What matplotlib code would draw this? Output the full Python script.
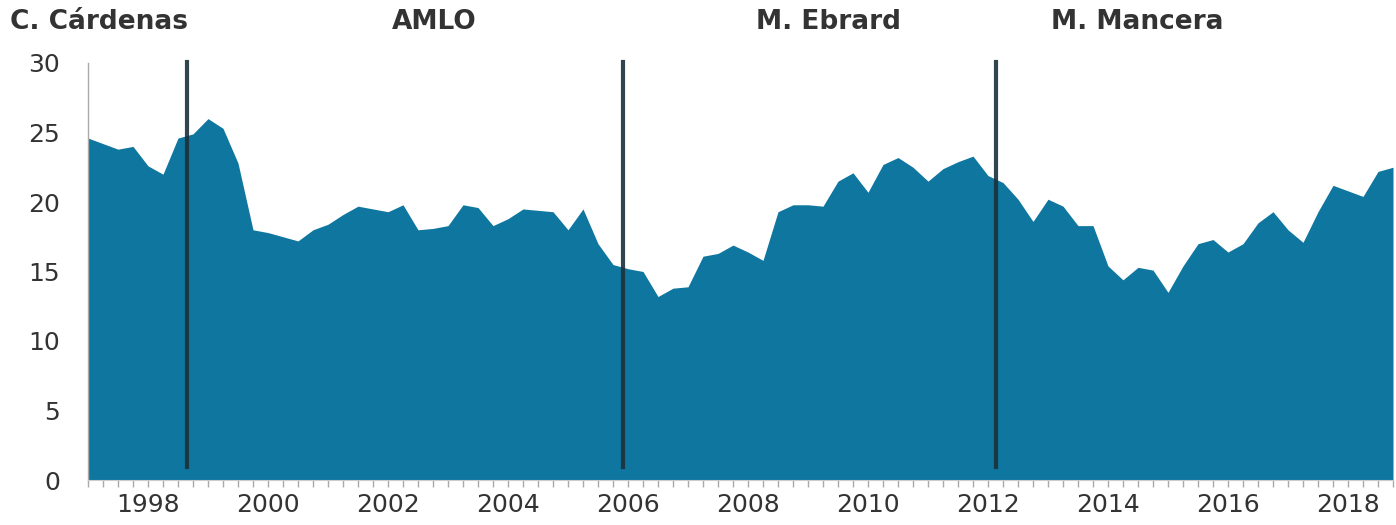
import numpy as np
import matplotlib
matplotlib.use("Agg")
import matplotlib.pyplot as plt

# Quarterly values, 1997 Q1 to 2018 Q4
values = [
    24.6, 24.2, 23.8, 24.0, 22.6, 22.0, 24.6, 24.9, 26.0, 25.3,
    22.8, 18.0, 17.8, 17.5, 17.2, 18.0, 18.4, 19.1, 19.7, 19.5,
    19.3, 19.8, 18.0, 18.1, 18.3, 19.8, 19.6, 18.3, 18.8, 19.5,
    19.4, 19.3, 18.0, 19.5, 17.0, 15.5, 15.2, 15.0, 13.2, 13.8,
    13.9, 16.1, 16.3, 16.9, 16.4, 15.8, 19.3, 19.8, 19.8, 19.7,
    21.5, 22.1, 20.7, 22.7, 23.2, 22.5, 21.5, 22.4, 22.9, 23.3,
    21.9, 21.4, 20.2, 18.6, 20.2, 19.7, 18.3, 18.3, 15.4, 14.4,
    15.3, 15.1, 13.5, 15.4, 17.0, 17.3, 16.4, 17.0, 18.5, 19.3,
    18.0, 17.1, 19.3, 21.2, 20.8, 20.4, 22.2, 22.5,
]
years = 1997 + np.arange(len(values)) / 4

# Changes of government and the header labels
change_years = [1998.65, 2005.92, 2012.13]
mayors = ["C. Cárdenas", "AMLO", "M. Ebrard", "M. Mancera"]
mayor_x = [10, 434, 829, 1137]

year_ticks = list(range(1998, 2019, 2))
y_ticks = [0, 5, 10, 15, 20, 25, 30]

plt.rcParams["font.family"] = ["DejaVu Sans"]

fig = plt.figure(figsize=(13.96, 5.25), dpi=100)
ax = fig.add_axes([88 / 1396, 45 / 525, 1305 / 1396, 417 / 525])

ax.fill_between(years, values, 0, color="#0f76a0", linewidth=0)

for x in change_years:
    ax.plot([x, x], [0.9, 30.1], color="#1c3039", alpha=0.9,
            linewidth=3, clip_on=False)

ax.set_xlim(1997, 2018.75)
ax.set_ylim(0, 30)

ax.set_xticks(year_ticks)
ax.set_xticks(np.arange(1997, 2018.8, 0.25), minor=True)
ax.set_yticks(y_ticks)
ax.tick_params(axis="x", which="both", length=5, width=1, color="#aaaaaa",
               labelsize=18, labelcolor="#333333", pad=4)
ax.tick_params(axis="y", length=0, labelsize=18, labelcolor="#333333", pad=20)

for side in ["top", "right"]:
    ax.spines[side].set_visible(False)
ax.spines["left"].set_color("#aaaaaa")
ax.spines["left"].set_linewidth(1)
ax.spines["bottom"].set_color("#cccccc")
ax.spines["bottom"].set_linewidth(0.8)

# Mayor names along the top
for name, x in zip(mayors, mayor_x):
    ha = "left" if x < 50 else "center"
    fig.text(x / 1396, 1 - 22 / 525, name, ha=ha, va="center",
             fontsize=19, fontweight="bold", color="#333333")

plt.savefig("out.png", dpi=100)
